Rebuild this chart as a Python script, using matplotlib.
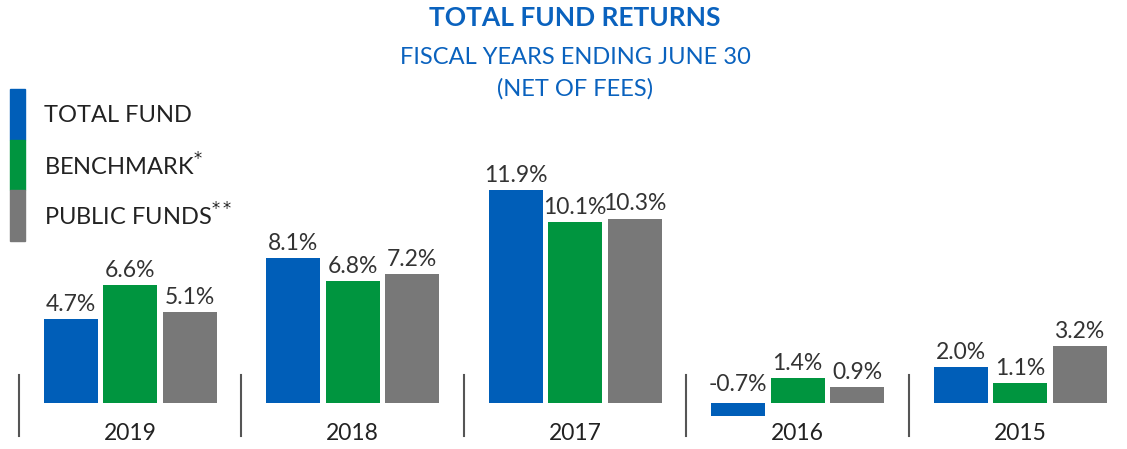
import numpy as np
import matplotlib.pyplot as plt
from matplotlib.patches import Rectangle

years = ['2019', '2018', '2017', '2016', '2015']
total_fund = [4.7, 8.1, 11.9, -0.7, 2.0]
benchmark = [6.6, 6.8, 10.1, 1.4, 1.1]
public_funds = [5.1, 7.2, 10.3, 0.9, 3.2]

series = [total_fund, benchmark, public_funds]
colors = ['#005EB8', '#00953F', '#787878']
legend_labels = ['TOTAL FUND', 'BENCHMARK$^{*}$', 'PUBLIC FUNDS$^{**}$']

plt.rcParams['font.family'] = ['Lato', 'DejaVu Sans']

W, H = 1127, 449
fig = plt.figure(figsize=(W / 100, H / 100), dpi=100)
ax = fig.add_axes([0, 0, 1, 1])

# pixel mapping: group spacing 222.5 px, baseline at 403 px from top
px_x = 222.5
px_y = 17.9
ax.set_xlim(-130 / px_x, (W - 130) / px_x)
ax.set_ylim(-(H - 403) / px_y, 403 / px_y)
ax.axis('off')

x = np.arange(len(years))
width = 54 / px_x
step = 59.5 / px_x
for i, (vals, c) in enumerate(zip(series, colors)):
    pos = x + (i - 1) * step
    ax.bar(pos, vals, width=width, color=c)
    for p, v in zip(pos, vals):
        ax.annotate('%.1f%%' % v, (p, max(v, 0)), xytext=(0, 3 if v >= 0 else 6),
                    textcoords='offset points', ha='center', va='bottom',
                    fontsize=16.5, color='#333333')

for b in np.arange(len(years)) - 0.5:
    ax.plot([b, b], [28 / px_y, -33 / px_y], color='#555555', lw=1.5)

for xi, y in zip(x, years):
    ax.text(xi, -31 / px_y, y, ha='center', va='center', fontsize=16.5, color='#222222')

# titles
fig.text(575 / W, 1 - 18 / H, 'TOTAL FUND RETURNS', ha='center', va='center',
         fontsize=19, fontweight='bold', color='#0A62BE')
fig.text(575 / W, 1 - 58 / H, 'FISCAL YEARS ENDING JUNE 30', ha='center', va='center',
         fontsize=17, color='#0A62BE')
fig.text(575 / W, 1 - 89 / H, '(NET OF FEES)', ha='center', va='center',
         fontsize=17, color='#0A62BE')

# legend strip
for i, (c, lab) in enumerate(zip(colors, legend_labels)):
    top = 89 + i * 50.5
    fig.patches.append(Rectangle((10 / W, 1 - (top + 50.5) / H), 15 / W, 50.5 / H,
                                 transform=fig.transFigure, color=c))
    fig.text(44 / W, 1 - (top + 26) / H, lab, ha='left', va='center',
             fontsize=17, color='#222222')

fig.savefig('out.png', dpi=100)
